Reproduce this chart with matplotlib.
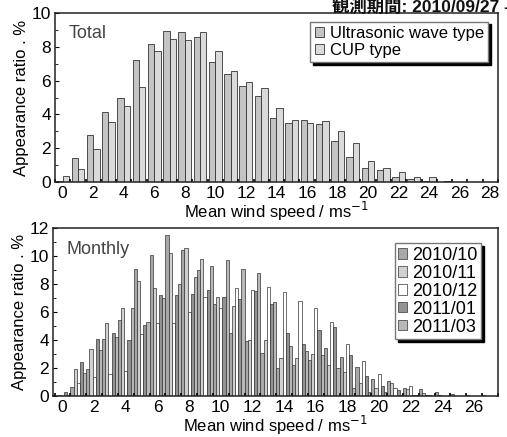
import numpy as np
import matplotlib.pyplot as plt
from matplotlib.ticker import MultipleLocator

plt.rcParams['font.family'] = ['Liberation Sans', 'Noto Sans CJK JP', 'DejaVu Sans']

# top panel: whole period, wind speed bins 0..28 m/s
bins_total = np.arange(0, 29)
ultrasonic = [0.05, 1.45, 2.8, 4.15, 5.0, 7.25, 8.15, 8.95, 8.9, 8.6, 7.1, 6.4, 5.7, 5.1,
              3.8, 3.5, 3.7, 3.45, 2.4, 1.5, 0.85, 0.7, 0.3, 0.2, 0.08, 0.03, 0.02, 0.0, 0.0]
cup = [0.33, 0.75, 1.95, 3.55, 4.5, 5.65, 7.75, 8.45, 8.4, 8.9, 7.75, 6.55, 5.95, 5.55,
       4.4, 3.65, 3.5, 3.6, 3.0, 2.3, 1.25, 0.85, 0.6, 0.27, 0.27, 0.08, 0.02, 0.02, 0.0]

# bottom panel: monthly, bins 0..27 m/s
bins_month = np.arange(0, 28)
months = ['2010/10', '2010/11', '2010/12', '2011/01', '2011/03']
m_2010_10 = [0.02, 0.66, 1.9, 4.1, 5.4, 9.1, 10.1, 11.5, 10.4, 9.0, 6.6, 4.5, 3.9, 3.1,
             2.0, 2.2, 2.6, 3.4, 2.8, 2.1, 1.2, 1.1, 0.6, 0.5, 0.3, 0.15, 0.1, 0.05]
m_2010_11 = [0.05, 1.9, 3.35, 5.2, 6.3, 8.2, 7.7, 10.2, 10.6, 9.8, 7.1, 6.4, 4.0, 4.0,
             2.7, 2.7, 3.0, 2.2, 1.7, 0.9, 0.6, 0.9, 0.5, 0.2, 0.05, 0.02, 0.0, 0.0]
m_2010_12 = [0.0, 0.9, 1.37, 1.6, 1.8, 4.4, 5.2, 5.2, 6.0, 7.1, 6.3, 7.7, 7.6, 7.8,
             7.4, 6.8, 6.3, 5.3, 3.7, 2.5, 1.6, 0.6, 0.7, 0.05, 0.02, 0.0, 0.0, 0.0]
m_2011_01 = [0.3, 2.45, 4.1, 4.5, 4.0, 5.1, 7.2, 7.2, 7.3, 7.6, 7.1, 6.9, 7.5, 6.6,
             4.5, 3.7, 4.7, 4.9, 2.9, 1.4, 0.7, 0.4, 0.1, 0.05, 0.02, 0.02, 0.0, 0.0]
m_2011_03 = [0.05, 1.66, 3.3, 4.2, 6.3, 5.3, 7.0, 8.0, 8.5, 9.3, 9.7, 9.1, 8.8, 6.7,
             3.6, 3.2, 2.9, 2.0, 0.6, 0.3, 0.3, 0.05, 0.05, 0.0, 0.0, 0.0, 0.0, 0.0]
monthly = [m_2010_10, m_2010_11, m_2010_12, m_2011_01, m_2011_03]
month_colors = ['#a8a8a8', '#d0d0d0', 'white', '#939393', '#b8b8b8']

fig = plt.figure(figsize=(5.07, 4.37), dpi=100)

def style_axes(ax, ymax, xmax, xmin):
    ax.set_xlim(xmin, xmax)
    ax.set_ylim(0, ymax)
    ax.xaxis.set_major_locator(MultipleLocator(2))
    ax.xaxis.set_minor_locator(MultipleLocator(1, offset=0.5))
    ax.yaxis.set_major_locator(MultipleLocator(2))
    ax.yaxis.set_minor_locator(MultipleLocator(1))
    ax.tick_params(axis='x', which='major', length=0, pad=3, labelsize=12.5)
    ax.tick_params(axis='x', which='minor', direction='in', length=2.5, width=1.2)
    ax.tick_params(axis='y', which='major', direction='in', length=3, pad=3, labelsize=12.5)
    ax.tick_params(axis='y', which='minor', direction='in', length=2)
    for s in ax.spines.values():
        s.set_linewidth(1.1)
        s.set_color('#222222')
    ax.set_xlabel('Mean wind speed / ms$^{-1}$', fontsize=12, labelpad=-1)
    ax.set_ylabel('Appearance ratio . %', fontsize=12, labelpad=2)

# ---- top panel
ax1 = fig.add_axes([0.1085, 0.5835, 0.8735, 0.3865])
w = 0.42
ax1.bar(bins_total - w / 2, ultrasonic, w, color='#c4c4c4', edgecolor='#333333',
        linewidth=0.6, label='Ultrasonic wave type')
ax1.bar(bins_total + w / 2, cup, w, color='#dadada', edgecolor='#333333',
        linewidth=0.6, label='CUP type')
style_axes(ax1, 10, 28.5, -0.5)
ax1.text(0.03, 0.88, 'Total', transform=ax1.transAxes, fontsize=13,
         color='#444444', va='center')
ax1.legend(loc='upper right', bbox_to_anchor=(0.985, 0.97), fontsize=12,
           frameon=True, fancybox=False, edgecolor='#777777',
           shadow={'color': 'black', 'alpha': 1.0},
           handlelength=0.55, handleheight=0.55, handletextpad=0.35,
           borderpad=0.25, labelspacing=0.15, borderaxespad=0.2)

# ---- bottom panel
ax2 = fig.add_axes([0.1045, 0.0938, 0.8775, 0.3845])
bw = 0.2
for i, (name, vals) in enumerate(zip(months, monthly)):
    ax2.bar(bins_month + (i - 2) * bw, vals, bw, color=month_colors[i],
            edgecolor='#333333', linewidth=0.5, label=name)
style_axes(ax2, 12, 27.5, -0.6)
ax2.text(0.03, 0.87, 'Monthly', transform=ax2.transAxes, fontsize=13,
         color='#444444', va='center')
ax2.legend(loc='upper right', bbox_to_anchor=(0.97, 0.93), fontsize=13,
           frameon=True, fancybox=False, edgecolor='#777777',
           shadow={'color': 'black', 'alpha': 1.0},
           handlelength=0.5, handleheight=0.5, handletextpad=0.25,
           borderpad=0.2, labelspacing=0.05, borderaxespad=0.2)

# the period note runs off the right edge in the original scan as well
fig.text(332 / 507, 1.006, '観測期間: 2010/09/27 - 2011/03/31', fontsize=12.5,
         fontweight='bold', va='top', ha='left', color='#111111')

fig.savefig('out.png', dpi=100)
